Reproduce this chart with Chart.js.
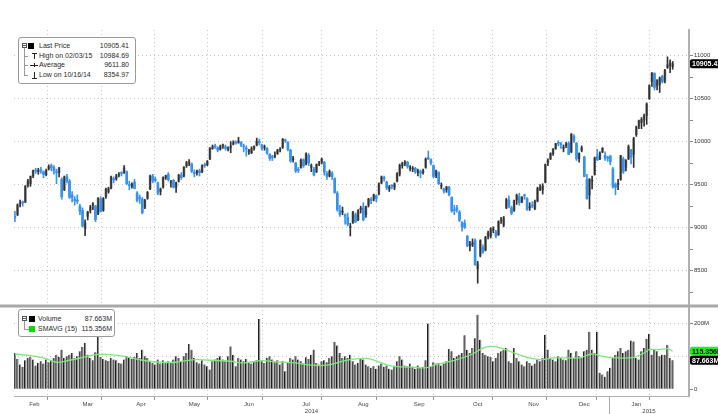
<!DOCTYPE html>
<html>
<head>
<meta charset="utf-8">
<script src="https://cdn.jsdelivr.net/npm/chart.js@4"></script>
<style>
  body { margin: 0; background: #fff; }
  #wrap { position: relative; width: 718px; height: 414px; overflow: hidden; }
  #wrap canvas { position: absolute; left: 0; top: 0; }
  .box { position: absolute; background: #fff; border: 1px solid #9a9a9a; border-radius: 3px;
         font: 7px "Liberation Sans", Arial, sans-serif; color: #2a2a2a; }
  .row { position: absolute; left: 0; right: 0; height: 10px; line-height: 10px; white-space: nowrap; }
  .row span { position: absolute; }
  .minus { width: 3px; height: 3px; border: 1px solid #555; top: 2px; }
  .minus:after { content: ''; position: absolute; left: 0; top: 1px; width: 3px; border-top: 1px solid #555; }
  .sq { width: 6px; height: 6px; top: 2px; }
  .tree { position: absolute; border-left: 1px solid #999; }
  .br { left: 5px; width: 4px; top: 5px; border-top: 1px solid #999; }
  .ln { border-top: 1px solid #222; }
  .st { border-left: 1px solid #222; }
</style>
</head>
<body>
<div id="wrap">
  <canvas id="myChart" width="718" height="414"></canvas>

  <div class="box" style="left:18px;top:37px;width:116px;height:45px;">
    <div class="tree" style="left:5px;top:9px;height:28px;"></div>
    <div class="row" style="top:3px">
      <span class="minus" style="left:3px"></span>
      <span class="sq" style="left:9px;background:#000"></span>
      <span style="left:20px">Last Price</span><span style="right:6px">10905.41</span>
    </div>
    <div class="row" style="top:13px">
      <span class="br"></span>
      <span class="ln" style="left:13px;top:2px;width:5px;height:0"></span>
      <span class="st" style="left:15px;top:2px;width:0;height:6px"></span>
      <span style="left:20px">High on 02/03/15</span><span style="right:6px">10984.69</span>
    </div>
    <div class="row" style="top:22px">
      <span class="br"></span>
      <span class="ln" style="left:11px;top:5px;width:8px;height:0"></span>
      <span class="st" style="left:15px;top:3px;width:0;height:4px"></span>
      <span style="left:20px">Average</span><span style="right:6px">9611.80</span>
    </div>
    <div class="row" style="top:32px">
      <span class="br"></span>
      <span class="st" style="left:15px;top:2px;width:0;height:6px"></span>
      <span class="ln" style="left:13px;top:8px;width:5px;height:0"></span>
      <span style="left:20px">Low on 10/16/14</span><span style="right:6px">8354.97</span>
    </div>
  </div>

  <div class="box" style="left:18px;top:309px;width:95px;height:26px;">
    <div class="tree" style="left:5px;top:10px;height:9px;"></div>
    <div class="row" style="top:4px">
      <span class="minus" style="left:3px"></span>
      <span class="sq" style="left:10px;background:#000"></span>
      <span style="left:19px">Volume</span><span style="right:2px">87.663M</span>
    </div>
    <div class="row" style="top:14px">
      <span class="br" style="width:5px"></span>
      <span class="sq" style="left:10px;background:#00e000"></span>
      <span style="left:19px">SMAVG (15)</span><span style="right:2px">115.356M</span>
    </div>
  </div>
</div>

<script>
  // months shown on the x axis, Feb 2014 .. Jan 2015, and their trading days
  const months = ['Feb', 'Mar', 'Apr', 'May', 'Jun', 'Jul', 'Aug', 'Sep', 'Oct', 'Nov', 'Dec', 'Jan'];
  const monthDays = [20, 21, 20, 21, 21, 23, 21, 22, 23, 20, 19, 21];
  const daysBeforeFirst = 2; // Feb 3 and 4 2014 are not on the chart
  const years = ['2014', '2015'];

  const opens = [
    9130, 9150, 9280, 9300, 9300, 9490, 9510, 9600, 9670, 9650, 9670, 9650, 9620, 9680, 9720, 9700, 9650, 9640,
    9560, 9440, 9590, 9540, 9380, 9330, 9320, 9250, 9200, 8990, 9130, 9200, 9260, 9250, 9160, 9330, 9200, 9360, 9420, 9460, 9570,
    9570, 9610, 9630, 9640, 9650, 9500, 9480, 9530, 9400, 9340, 9330, 9240, 9340, 9450, 9600, 9550, 9520, 9420, 9470, 9580,
    9620, 9520, 9550, 9470, 9540, 9610, 9600, 9720, 9750, 9740, 9640, 9640, 9660, 9650, 9730, 9730, 9800, 9920, 9950, 9930, 9910,
    9950, 9940, 9910, 9930, 9970, 9990, 9990, 9990, 9950, 9920, 9880, 9870, 9920, 9960, 10000, 9960, 9930, 9920, 9850, 9820, 9830,
    9860, 9900, 9930, 10020, 9990, 9900, 9790, 9750, 9670, 9700, 9790, 9740, 9840, 9700, 9680, 9650, 9740, 9760, 9760, 9630, 9600, 9630, 9570,
    9400, 9200, 9180, 9150, 9120, 9000, 9060, 9150, 9090, 9210, 9230, 9150, 9260, 9320, 9330, 9370, 9390, 9520, 9580, 9530, 9450,
    9480, 9470, 9540, 9620, 9720, 9750, 9760, 9690, 9680, 9690, 9640, 9650, 9640, 9700, 9810, 9790, 9720, 9610, 9640, 9480, 9450, 9440,
    9470, 9350, 9200, 9230, 9180, 9060, 9050, 8900, 8790, 8800, 8850, 8520, 8680, 8770, 8740, 8900, 8900, 8970, 8950, 8920, 9080, 9030, 9230,
    9320, 9230, 9200, 9320, 9360, 9300, 9370, 9340, 9230, 9260, 9220, 9310, 9440, 9440, 9530, 9750, 9800, 9860, 9920, 9990,
    9970, 9920, 9950, 9980, 9880, 10060, 9980, 9800, 9900, 9820, 9560, 9380, 9540, 9620, 9830, 9800, 9880, 9840, 9810,
    9830, 9680, 9500, 9500, 9560, 9800, 9700, 9800, 9900, 9850, 10080, 10180, 10220, 10250, 10300, 10500, 10700, 10790, 10650, 10660, 10760,
    10700, 10860, 10880, 10870
  ];
  const highs = [
    9190, 9275, 9320, 9310, 9490, 9560, 9600, 9670, 9690, 9690, 9700, 9660, 9680, 9730, 9740, 9720, 9680, 9700,
    9580, 9600, 9620, 9560, 9420, 9360, 9380, 9270, 9230, 9090, 9190, 9260, 9290, 9260, 9350, 9360, 9350, 9460, 9470, 9600, 9590,
    9620, 9640, 9650, 9720, 9660, 9540, 9520, 9560, 9420, 9380, 9350, 9330, 9420, 9610, 9620, 9590, 9530, 9460, 9590, 9610,
    9640, 9550, 9560, 9530, 9620, 9640, 9710, 9770, 9790, 9750, 9670, 9670, 9680, 9730, 9750, 9780, 9930, 9960, 9970, 9940, 9960,
    9970, 9960, 9940, 10000, 10010, 10010, 10050, 10000, 9970, 9950, 9910, 9940, 9950, 10040, 10030, 9970, 9960, 9930, 9860, 9840, 9880,
    9910, 9930, 10035, 10030, 10000, 9910, 9830, 9760, 9700, 9800, 9800, 9870, 9860, 9740, 9700, 9740, 9770, 9810, 9770, 9650, 9670, 9650, 9580,
    9420, 9260, 9240, 9160, 9170, 9050, 9190, 9170, 9210, 9250, 9290, 9250, 9340, 9350, 9390, 9380, 9520, 9600, 9600, 9540, 9490,
    9500, 9520, 9640, 9740, 9760, 9780, 9770, 9720, 9710, 9700, 9680, 9670, 9680, 9810, 9890, 9800, 9730, 9670, 9650, 9520, 9460, 9480,
    9480, 9360, 9260, 9260, 9200, 9070, 9090, 8910, 8840, 8870, 8870, 8610, 8860, 8800, 8900, 8960, 9000, 9010, 8970, 9080, 9120, 9130, 9340,
    9370, 9250, 9320, 9390, 9400, 9360, 9390, 9350, 9290, 9300, 9320, 9470, 9500, 9510, 9740, 9800, 9870, 9920, 9980, 10010,
    9990, 9960, 9990, 10000, 10093, 10080, 9990, 9870, 9950, 9830, 9620, 9570, 9600, 9820, 9910, 9880, 9930, 9880, 9830,
    9840, 9700, 9520, 9560, 9840, 9820, 9790, 9960, 9910, 10050, 10180, 10250, 10280, 10320, 10450, 10660, 10800, 10800, 10720, 10750, 10770,
    10840, 10984.69, 10950, 10930
  ];
  const lows = [
    9070, 9140, 9240, 9250, 9290, 9470, 9480, 9580, 9630, 9620, 9630, 9580, 9600, 9670, 9660, 9620, 9510, 9590,
    9330, 9430, 9520, 9340, 9300, 9260, 9280, 9150, 9010, 8907, 9090, 9170, 9210, 9070, 9150, 9180, 9190, 9340, 9400, 9450, 9520,
    9550, 9590, 9600, 9630, 9500, 9440, 9460, 9450, 9300, 9280, 9160, 9220, 9330, 9440, 9520, 9530, 9380, 9380, 9460, 9560,
    9540, 9470, 9460, 9410, 9530, 9560, 9590, 9700, 9720, 9640, 9590, 9610, 9600, 9640, 9700, 9720, 9790, 9910, 9920, 9880, 9900,
    9920, 9900, 9890, 9870, 9960, 9970, 9980, 9940, 9880, 9830, 9850, 9860, 9900, 9950, 9960, 9900, 9900, 9850, 9780, 9780, 9810,
    9850, 9880, 9920, 9990, 9890, 9760, 9760, 9640, 9640, 9690, 9700, 9730, 9720, 9650, 9600, 9640, 9720, 9740, 9610, 9560, 9590, 9560, 9400,
    9190, 9130, 9150, 9040, 9020, 8903, 9050, 9060, 9080, 9170, 9080, 9120, 9240, 9280, 9310, 9300, 9380, 9510, 9540, 9440, 9420,
    9450, 9440, 9530, 9600, 9690, 9720, 9690, 9660, 9650, 9630, 9600, 9580, 9620, 9690, 9790, 9730, 9580, 9580, 9500, 9450, 9400, 9410,
    9370, 9180, 9150, 9180, 9070, 8960, 8990, 8780, 8730, 8780, 8560, 8354.97, 8660, 8700, 8730, 8870, 8880, 8940, 8880, 8910, 9050, 9010, 9220,
    9230, 9150, 9190, 9270, 9260, 9290, 9330, 9200, 9200, 9230, 9210, 9300, 9430, 9390, 9520, 9720, 9790, 9840, 9910, 9950,
    9920, 9880, 9930, 9850, 9870, 9990, 9780, 9760, 9880, 9590, 9330, 9219, 9450, 9610, 9780, 9790, 9870, 9780, 9770,
    9730, 9460, 9382, 9440, 9550, 9630, 9660, 9790, 9740, 9700, 10060, 10150, 10150, 10180, 10200, 10490, 10640, 10600, 10600, 10570, 10680,
    10680, 10850, 10800, 10840
  ];
  const closes = [
    9116, 9265, 9291, 9286, 9478, 9540, 9596, 9663, 9656, 9660, 9660, 9618, 9657, 9708, 9699, 9661, 9639, 9692,
    9358, 9590, 9542, 9351, 9350, 9311, 9307, 9189, 9017, 9056, 9180, 9242, 9277, 9093, 9343, 9189, 9338, 9448, 9452, 9588, 9556,
    9603, 9623, 9628, 9695, 9510, 9490, 9507, 9455, 9315, 9339, 9173, 9318, 9409, 9601, 9545, 9549, 9401, 9447, 9585, 9603,
    9556, 9529, 9468, 9522, 9607, 9581, 9703, 9754, 9755, 9656, 9630, 9659, 9639, 9722, 9720, 9768, 9926, 9940, 9939, 9902, 9944,
    9950, 9920, 9927, 9948, 9987, 9985, 10008, 9963, 9938, 9912, 9883, 9920, 9942, 10004, 9987, 9920, 9938, 9867, 9805, 9815, 9833,
    9902, 9903, 10029, 10009, 9906, 9773, 9808, 9659, 9666, 9783, 9719, 9860, 9753, 9720, 9612, 9735, 9753, 9797, 9645, 9594, 9653, 9593, 9407,
    9210, 9154, 9189, 9130, 9039, 9010, 9181, 9069, 9199, 9226, 9092, 9246, 9334, 9315, 9381, 9339, 9510, 9589, 9569, 9462, 9470,
    9479, 9507, 9626, 9724, 9747, 9758, 9710, 9700, 9692, 9651, 9660, 9633, 9661, 9799, 9800, 9749, 9596, 9662, 9511, 9490, 9423, 9474,
    9382, 9195, 9196, 9209, 9086, 9006, 9005, 8788, 8812, 8826, 8572, 8582, 8850, 8717, 8887, 8940, 8987, 8988, 8903, 9068, 9083, 9114, 9327,
    9251, 9167, 9316, 9378, 9291, 9352, 9369, 9211, 9249, 9253, 9307, 9456, 9473, 9483, 9733, 9785, 9862, 9916, 9975, 9980,
    9963, 9935, 9972, 9851, 10087, 10015, 9799, 9861, 9929, 9595, 9335, 9563, 9544, 9811, 9787, 9865, 9922, 9806, 9806,
    9765, 9473, 9470, 9518, 9837, 9648, 9781, 9941, 9818, 10032, 10168, 10243, 10257, 10300, 10436, 10649, 10799, 10629, 10711, 10738, 10694,
    10828, 10891, 10911, 10905.41
  ];
  // volume in millions
  const volumes = [
    110, 92, 75, 68, 88, 95, 98, 90, 72, 80, 85, 78, 90, 82, 88, 95, 105, 98,
    120, 95, 100, 105, 110, 95, 100, 115, 128, 140, 105, 95, 88, 112, 190, 98, 92, 88, 86, 95, 90,
    88, 80, 78, 90, 100, 95, 92, 98, 110, 95, 120, 100, 95, 85, 80, 75, 90, 78, 88, 82,
    85, 80, 90, 100, 95, 85, 100, 110, 137, 120, 95, 82, 78, 88, 75, 70, 60, 85, 90, 95, 100,
    90, 85, 100, 130, 105, 70, 95, 90, 85, 92, 80, 78, 85, 88, 213, 85, 80, 95, 100, 90, 82,
    88, 75, 85, 55, 80, 95, 90, 100, 90, 85, 78, 97, 92, 105, 120, 80, 75, 85, 88, 82, 95, 100, 143,
    133, 110, 95, 100, 95, 105, 85, 75, 80, 95, 90, 75, 70, 65, 70, 62, 72, 78, 68, 72, 62,
    60, 70, 85, 100, 90, 72, 70, 78, 68, 62, 72, 65, 68, 88, 199, 68, 82, 78, 80, 72, 78, 85,
    122, 115, 95, 100, 105, 110, 164, 120, 110, 125, 155, 226, 150, 110, 105, 100, 98, 85, 95, 110, 115, 120, 125,
    85, 80, 125, 95, 85, 75, 70, 85, 80, 72, 78, 90, 85, 95, 165, 120, 95, 90, 85, 100,
    95, 90, 88, 120, 110, 95, 115, 100, 95, 115, 120, 174, 120, 110, 174, 50, 45, 38, 55,
    65, 95, 105, 115, 125, 110, 115, 120, 148, 145, 95, 90, 115, 125, 153, 168, 105, 120, 115, 100, 105,
    105, 135, 95, 87.663
  ];
  // 15 day volume average, read at these trading days
  const smaDays = [0, 6, 11, 16, 21, 27, 32, 37, 42, 49, 56, 62, 69, 75, 83, 88, 95, 101, 108, 114,
    120, 127, 132, 136, 140, 145, 153, 158, 162, 165, 170, 176, 180, 183, 187, 192, 197, 202, 207, 212,
    217, 222, 226, 232, 238, 242, 244, 248, 251, 253];
  const smaValues = [107, 102, 95, 82, 88, 98, 106, 105, 100, 88, 82, 82, 90, 88, 85, 80, 87, 83, 80, 73,
    73, 87, 93, 93, 83, 70, 67, 65, 75, 80, 90, 107, 125, 130, 125, 110, 97, 90, 95, 95,
    95, 107, 100, 95, 97, 110, 120, 120, 123, 115.356];

  const priceTicks = [8250, 8500, 8750, 9000, 9250, 9500, 9750, 10000, 10250, 10500, 10750, 11000];
  const volumeTicks = [0, 100, 200];

  // month boundaries (grid) and month centres (labels), in trading-day units
  const bounds = [-0.5 - daysBeforeFirst];
  monthDays.forEach(d => bounds.push(bounds[bounds.length - 1] + d));
  const gridAt = bounds.slice(1);
  const labelAt = months.map((m, k) => (bounds[k] + bounds[k + 1]) / 2);
  const xMin = -0.35, xMax = 259.27;
  const yearAt = [(xMin + bounds[11]) / 2, (bounds[11] + xMax) / 2];

  const idx = closes.map((c, i) => i);
  const bodyColors = idx.map(i => closes[i] >= opens[i] ? '#8a8a8a' : '#2a8cf0');
  const wickColors = idx.map(i => closes[i] >= opens[i] ? '#303030' : '#3a93ee');

  const font = '"Liberation Sans", Arial, sans-serif';
  const tickFont = { family: font, size: 6 };
  const hidden = 'rgba(0,0,0,0)';

  function tag(ctx, x, y, text, bg, fg) {
    ctx.fillStyle = bg;
    ctx.beginPath();
    ctx.roundRect(x, y - 4.5, 34, 9, 2);
    ctx.fill();
    ctx.fillStyle = fg;
    ctx.font = 'bold 7px ' + font;
    ctx.textAlign = 'left';
    ctx.textBaseline = 'middle';
    ctx.fillText(text, x + 2, y + 0.5);
  }

  const panelTags = {
    id: 'panelTags',
    afterDraw(chart) {
      const { ctx, scales: { x, y, yVol } } = chart;
      ctx.save();
      ctx.fillStyle = '#a8a8a8';
      ctx.fillRect(0, yVol.top - 1.5, chart.width, 3);

      // year labels under the months, and the year boundary tick
      ctx.fillStyle = '#444';
      ctx.font = '6px ' + font;
      ctx.textAlign = 'center';
      ctx.textBaseline = 'top';
      years.forEach((t, k) => ctx.fillText(t, x.getPixelForValue(yearAt[k]), x.top + 12));
      const jx = Math.round(x.getPixelForValue(bounds[11])) + 0.5;
      ctx.strokeStyle = '#aaa';
      ctx.lineWidth = 1;
      ctx.beginPath();
      ctx.moveTo(jx, x.top);
      ctx.lineTo(jx, chart.height);
      ctx.stroke();

      const n = closes.length - 1;
      tag(ctx, y.left + 1, y.getPixelForValue(closes[n]), closes[n].toFixed(2), '#000', '#fff');
      const s = smaValues[smaValues.length - 1];
      tag(ctx, yVol.left + 1, yVol.getPixelForValue(s), s.toFixed(3) + 'M', '#22ee22', '#000');
      tag(ctx, yVol.left + 1, yVol.getPixelForValue(volumes[n]), volumes[n].toFixed(3) + 'M', '#000', '#fff');
      ctx.restore();
    }
  };

  const data = {
    datasets: [{
      type: 'bar',
      label: 'High/Low',
      data: idx.map(i => ({ x: i, y: [lows[i], highs[i]] })),
      backgroundColor: wickColors,
      barThickness: 1,
      grouped: false,
      yAxisID: 'y',
    }, {
      type: 'bar',
      label: 'Open/Close',
      data: idx.map(i => ({ x: i, y: [opens[i], closes[i]] })),
      backgroundColor: bodyColors,
      barThickness: 2,
      minBarLength: 1,
      grouped: false,
      yAxisID: 'y',
    }, {
      type: 'line',
      label: 'SMAVG (15)',
      data: smaDays.map((d, k) => ({ x: d, y: smaValues[k] })),
      borderColor: '#7de87d',
      borderWidth: 1.3,
      pointRadius: 0,
      tension: 0.35,
      yAxisID: 'yVol',
    }, {
      type: 'bar',
      label: 'Volume',
      data: idx.map(i => ({ x: i, y: volumes[i] })),
      backgroundColor: '#8a8a8a',
      borderColor: '#1c1c1c',
      borderWidth: { left: 1, right: 0, top: 0, bottom: 0 },
      barThickness: 2,
      grouped: false,
      yAxisID: 'yVol',
    }]
  };

  const config = {
    type: 'bar',
    data,
    plugins: [panelTags],
    options: {
      responsive: false,
      animation: false,
      events: [],
      layout: { padding: { left: 14, top: 30, right: 0, bottom: 0 } },
      plugins: { legend: { display: false }, tooltip: { enabled: false } },
      scales: {
        x: {
          type: 'linear', position: 'bottom', min: xMin, max: xMax, offset: false,
          afterBuildTicks: s => { s.ticks = gridAt.concat(labelAt).sort((a, b) => a - b).map(v => ({ value: v })); },
          afterFit: s => { s.height = 18; },
          ticks: {
            autoSkip: false, maxRotation: 0, padding: 1, font: tickFont, color: '#444',
            callback: v => { const k = labelAt.indexOf(v); return k >= 0 ? months[k] : ''; }
          },
          grid: {
            color: c => c.tick && gridAt.includes(c.tick.value) ? '#c4c4c4' : hidden,
            tickColor: c => c.tick && gridAt.includes(c.tick.value) ? '#999' : hidden,
            tickLength: 4
          },
          border: { color: '#b0b0b0', width: 1, dash: [1, 3] }
        },
        y: {
          type: 'linear', position: 'right', stack: 'panes', stackWeight: 276,
          min: 8090, max: 11296,
          afterBuildTicks: s => { s.ticks = priceTicks.map(v => ({ value: v })); },
          afterFit: s => { s.width = 29; },
          ticks: { font: tickFont, color: '#333', padding: 1, callback: v => v % 500 === 0 ? String(v) : '' },
          grid: {
            color: c => c.tick && c.tick.value % 500 === 0 ? '#c4c4c4' : hidden,
            tickColor: '#888', tickLength: 4
          },
          border: { color: '#b0b0b0', width: 2, dash: [1, 3] }
        },
        yVol: {
          type: 'linear', position: 'right', stack: 'panes', stackWeight: 90,
          min: -20.3, max: 252.4,
          afterBuildTicks: s => { s.ticks = volumeTicks.map(v => ({ value: v })); },
          afterFit: s => { s.width = 29; },
          ticks: { font: tickFont, color: '#333', padding: 1, callback: v => v === 0 ? '0' : v + 'M' },
          grid: {
            color: c => c.tick && c.tick.value > 0 ? '#c4c4c4' : hidden,
            tickColor: '#888', tickLength: 4
          },
          border: { color: '#b0b0b0', width: 2, dash: [1, 3] }
        }
      }
    }
  };

  var myChart = new Chart(
    document.getElementById('myChart'),
    config
  );
</script>
</body>
</html>
